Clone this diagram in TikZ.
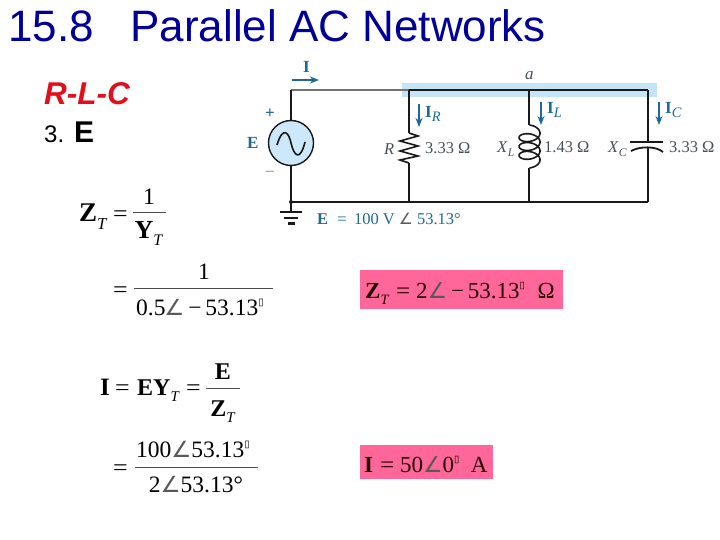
\documentclass[tikz,border=0pt]{standalone}
\usepackage{fontspec}
\setmainfont{Liberation Serif}
\newfontfamily\arialf{Liberation Sans}
\newfontfamily\djf{DejaVu Sans}
\usetikzlibrary{arrows.meta}
\definecolor{navy}{RGB}{0,0,153}
\definecolor{brightred}{RGB}{225,15,30}
\definecolor{teal1}{RGB}{30,105,150}
\definecolor{pinkbox}{RGB}{255,102,153}
\definecolor{hilite}{RGB}{197,228,246}
\definecolor{srcfill}{RGB}{205,232,250}
\definecolor{inkc}{RGB}{25,25,25}
\definecolor{labc}{RGB}{70,80,88}
\newcommand{\angl}{{\djf\color{black!65}\scalebox{.95}{∠}}}
\newcommand{\tofu}{\raisebox{.42em}{\djf\scalebox{.42}{▯}}}
\newcommand{\Tsub}{\raisebox{-.28em}{\scalebox{.62}{\textit{T}}}}
\newcommand{\wb}[1]{\textbf{#1}}
\newcommand{\weq}{\scalebox{1.1}[1]{=}}
\newcommand{\psize}[1]{\fontsize{#1}{#1}\selectfont}
\begin{document}
\begin{tikzpicture}[x=1pt,y=-1pt,
  eq/.style={anchor=base west,inner sep=0pt,font=\psize{23.5},text=black},
  eqc/.style={anchor=base,inner sep=0pt,font=\psize{23.5},text=black},
  res/.style={anchor=base west,inner sep=0pt,font=\psize{23},text=black!85!red},
  fracbar/.style={draw=black!70,line width=1pt},
  wire/.style={draw=inkc,line width=1.1pt},
  comp/.style={draw=inkc,line width=1.6pt},
  cur/.style={draw=teal1,line width=1.1pt,-{Stealth[length=9pt,width=7pt]}},
  cirl/.style={anchor=base west,inner sep=0pt,font=\psize{16.5},text=labc},
  curl/.style={anchor=base west,inner sep=0pt,font=\psize{17}\bfseries,text=teal1},
  pinkr/.style={fill=pinkbox,draw=none}]
\useasboundingbox (0,0) rectangle (720,540);
% title
\node[anchor=base west,inner sep=0pt,font=\arialf\psize{44},text=navy] (title) at (8,42) {15.8\hspace{.83em}Parallel AC Networks};
\node[anchor=base west,inner sep=0pt,font=\arialf\bfseries\itshape\psize{31.5},text=brightred] (rlc) at (44,105) {R-L-C};
\node[anchor=base west,inner sep=0pt,font=\arialf\psize{24},text=black] (three) at (44,143) {3.};
\node[anchor=base west,inner sep=0pt,font=\arialf\bfseries\psize{30},text=black] (threeE) at (74,143) {E};
% circuit
\fill[hilite] (402,83) rectangle (657,97);
\coordinate (tl) at (291,90); \coordinate (ta) at (409,90); \coordinate (tb) at (529,90); \coordinate (tc) at (648,90);
\coordinate (bl) at (291,202); \coordinate (ba) at (409,202); \coordinate (bb) at (529,202); \coordinate (bc) at (648,202);
\node[circle,draw=inkc,line width=1.4pt,fill=srcfill,minimum size=45pt,inner sep=0pt] (src) at (291,143) {};
\draw[draw=black!55,line width=1.2pt] (tl) -- (ta);
\draw[wire] (src) -- (tl);
\draw[wire] (src) -- (bl);
\draw[wire] (ta) -- (tb) -- (tc);
\draw[wire] (bl) -- (ba) -- (bb) -- (bc);
\draw[comp] (277,145) .. controls (283,125) and (289,133) .. (291,143) .. controls (294,156) and (300,162) .. (305,142);
\fill[inkc] (bl) circle (2pt);
% ground
\coordinate (g0) at (291,212);
\draw[wire] (bl) -- (g0);
\draw[inkc,line width=2.8pt] (280,212) -- (302,212);
\draw[inkc,line width=2.5pt] (284,218) -- (298,218);
\draw[inkc,line width=2.5pt] (288,223.5) -- (295,223.5);
% resistor
\coordinate (r1) at (409,133); \coordinate (r2) at (409,163);
\draw[wire] (ta) -- (r1);
\draw[wire] (r2) -- (ba);
\draw[comp] (r1) -- (418,136) -- (400,141) -- (418,146) -- (400,151) -- (418,156) -- (400,160) -- (r2);
% inductor
\coordinate (l1) at (529,125); \coordinate (l2) at (529,168);
\draw[wire] (tb) -- (l1);
\draw[wire] (l2) -- (bb);
\draw[comp,smooth] plot[domain=0:1260,samples=120,variable=\t] ({529.5+10.5*sin(\t)},{125+\t/1260*31+6*(1-cos(\t))});
% capacitor
\coordinate (c1) at (648,142); \coordinate (c2) at (648,148);
\draw[wire] (tc) -- (c1);
\draw[wire] (c2) -- (bc);
\draw[inkc,line width=1.8pt] (630,142) -- (663,142);
\draw[inkc,line width=1.8pt] (631,151) .. controls (640,146) and (656,146) .. (663,152);
% currents
\coordinate (ia) at (292,80); \coordinate (ib) at (319,80);
\draw[cur] (ia) -- (ib);
\coordinate (ra) at (419,104); \coordinate (rb) at (419,127);
\draw[cur] (ra) -- (rb);
\coordinate (la) at (541,102); \coordinate (lb) at (541,125);
\draw[cur] (la) -- (lb);
\coordinate (ca) at (659,102); \coordinate (cb) at (659,125);
\draw[cur] (ca) -- (cb);
\node[curl] (lI) at (303,73) {I};
\node[curl] (lIR) at (425,118) {I\raisebox{-.2em}{\scalebox{.85}{\normalfont\textit{R}}}};
\node[curl] (lIL) at (547,114) {I\raisebox{-.2em}{\scalebox{.85}{\normalfont\textit{L}}}};
\node[curl] (lIC) at (665,114) {I\raisebox{-.2em}{\scalebox{.85}{\normalfont\textit{C}}}};
\node[cirl,font=\psize{17}\itshape] (la1) at (525,80) {a};
\node[curl] (lE) at (247,149) {E};
\node[curl] (lp) at (265,119) {+};
\node[curl,text=black!35] (lm) at (265,178) {−};
\node[cirl,font=\psize{16.5}\itshape] (lR) at (384,155) {R};
\node[cirl] (v1) at (425,154) {3.33 Ω};
\node[cirl] (lXL) at (497,153) {\textit{X}\raisebox{-.2em}{\scalebox{.7}{\textit{L}}}};
\node[cirl] (v2) at (544,153) {1.43 Ω};
\node[cirl] (lXC) at (608,153) {\textit{X}\raisebox{-.2em}{\scalebox{.7}{\textit{C}}}};
\node[cirl] (v3) at (669,153) {3.33 Ω};
\node[cirl,text=teal1] (eE) at (317,225) {\textbf{E}\hspace{.55em}=\hspace{.45em}100 V \angl{} 53.13°};
% Z_T
\node[eq,font=\psize{27}] (zt) at (79,222) {\wb{Z}\Tsub};
\node[eq] (e1) at (113,222) {\weq};
\node[eqc] (n1) at (149,205) {1};
\coordinate (f1a) at (133,213); \coordinate (f1b) at (166,213);
\draw[fracbar] (f1a) -- (f1b);
\node[eqc,font=\psize{26}] (d1) at (149,238) {\wb{Y}\Tsub};
\node[eq] (e2) at (113,297) {\weq};
\node[eqc] (n2) at (204,279) {1};
\coordinate (f2a) at (134,288); \coordinate (f2b) at (273,288);
\draw[fracbar] (f2a) -- (f2b);
\node[eq] (d2) at (136,315) {0.5\hspace{-.05em}\angl{}\,−\,53.13\tofu};
% I
\node[eq,font=\psize{25}] (i1) at (100,395) {\textbf{I}};
\node[eq] (e4) at (115,395) {\weq};
\node[eq,font=\psize{24}] (ey) at (137,395) {\wb{EY}\Tsub};
\node[eq] (e5) at (186,395) {\weq};
\node[eqc,font=\psize{24}] (n3) at (223,379) {\wb{E}};
\coordinate (f3a) at (206,388); \coordinate (f3b) at (240,388);
\draw[fracbar] (f3a) -- (f3b);
\node[eqc,font=\psize{24}] (d3) at (223,416) {\wb{Z}\Tsub};
\node[eq] (e3) at (113,475) {\weq};
\node[eq] (n4) at (136,457) {100\angl{}53.13\tofu};
\coordinate (f4a) at (135,467); \coordinate (f4b) at (258,467);
\draw[fracbar] (f4a) -- (f4b);
\node[eqc] (d4) at (196,492) {2\angl{}53.13°};
% result boxes
\fill[pinkr] (360,270) rectangle (563,309);
\fill[pinkr] (360,445) rectangle (493,479);
\node[res] (r1t) at (365,298) {\textbf{Z}\Tsub{}\hspace{.3em}\weq{}\hspace{.25em}2\angl{}\,−\,53.13\tofu{}\hspace{.55em}Ω};
\node[res] (r2t) at (364,472) {\textbf{I}\hspace{.3em}\weq{}\hspace{.25em}50\angl{}0\tofu{}\hspace{.5em}A};
\end{tikzpicture}
\end{document}
